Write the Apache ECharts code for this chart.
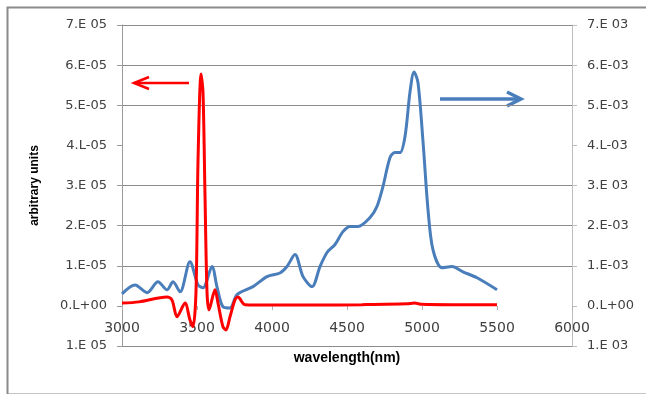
<!DOCTYPE html>
<html>
<head>
<meta charset="utf-8">
<script src="https://cdn.jsdelivr.net/npm/echarts@6/dist/echarts.min.js"></script>
<style>html,body{margin:0;padding:0;background:#fff;}#c{width:646px;height:394px;}</style>
</head>
<body>
<div id="c"></div>
<script>
// wavelength (nm) and values
const blueX = [3000,3087,3167,3240,3300,3340,3387,3453,3507,3540,3600,3633,3673,3720,3767,3873,3967,4053,4100,4153,4207,4267,4320,4367,4420,4473,4520,4573,4653,4700,4740,4787,4820,4853,4887,4920,4947,4973,5007,5040,5073,5133,5200,5273,5367,5500];
const blueY = [0.30e-3,0.52e-3,0.33e-3,0.60e-3,0.40e-3,0.60e-3,0.35e-3,1.10e-3,0.52e-3,0.45e-3,0.98e-3,0.48e-3,-0.02e-3,-0.05e-3,0.28e-3,0.48e-3,0.73e-3,0.82e-3,0.98e-3,1.28e-3,0.73e-3,0.48e-3,0.98e-3,1.33e-3,1.53e-3,1.85e-3,1.98e-3,1.98e-3,2.20e-3,2.48e-3,2.98e-3,3.70e-3,3.82e-3,3.82e-3,4.23e-3,5.33e-3,5.83e-3,5.57e-3,4.08e-3,2.40e-3,1.40e-3,0.95e-3,0.98e-3,0.85e-3,0.70e-3,0.40e-3];
const redX = [3000,3113,3300,3333,3367,3420,3453,3473,3493,3507,3527,3540,3553,3567,3580,3620,3640,3673,3693,3720,3753,3773,3820,4000,4300,4600,4900,4950,5000,5200,5500];
const redY = [0.07e-5,0.10e-5,0.22e-5,0.15e-5,-0.27e-5,0.07e-5,-0.35e-5,-0.52e-5,0.32e-5,3.65e-5,5.78e-5,5.32e-5,2.82e-5,0.32e-5,-0.10e-5,0.40e-5,0.07e-5,-0.52e-5,-0.60e-5,-0.27e-5,0.15e-5,0.22e-5,0.03e-5,0.02e-5,0.02e-5,0.03e-5,0.05e-5,0.07e-5,0.04e-5,0.03e-5,0.03e-5];
const xTicks = ['3000','3500','4000','4500','5000','5500','6000'];
const leftTicks = ['1.E 05','0.L+00','1.E-05','2.E-05','3.E 05','4.L-05','5.E-05','6.E-05','7.E 05'];
const rightTicks = ['1.E 03','0.L+00','1.E-03','2.E-03','3.E 03','4.L-03','5.E-03','6.E-03','7.E 03'];

const chart = echarts.init(document.getElementById('c'), null, {renderer:'canvas'});
const font = '"DejaVu Sans", sans-serif';
const boldFont = '"Liberation Sans", Arial, sans-serif';
const gridColors = ['#8c8c8c','rgba(0,0,0,0)','#8c8c8c','#8c8c8c','#8c8c8c','rgba(0,0,0,0)','#8c8c8c','#8c8c8c','#8c8c8c'];
chart.setOption({
  animation:false,
  backgroundColor:'#fff',
  grid:{left:122,right:74,top:25,bottom:48,containLabel:false,outerBoundsMode:'none'},
  xAxis:{type:'value',min:3000,max:6000,interval:500,position:'bottom',offset:-40,
    name:'wavelength(nm)',nameLocation:'middle',nameGap:45,
    nameTextStyle:{fontFamily:boldFont,fontWeight:'bold',fontSize:14,color:'#000'},
    axisLine:{show:true,onZero:false,lineStyle:{color:'rgba(0,0,0,0)'}},
    axisTick:{show:true,inside:false,length:4,lineStyle:{color:'#b0b0b0'}},
    splitLine:{show:false},
    axisLabel:{margin:15,fontFamily:font,fontSize:14,color:'#404040',
      formatter:(v)=>xTicks[Math.round((v-3000)/500)]}},
  yAxis:[
    {type:'value',min:-1e-5,max:7e-5,interval:1e-5,position:'left',
     name:'arbitrary units',nameLocation:'middle',nameGap:81,nameRotate:90,
     nameTextStyle:{fontFamily:boldFont,fontWeight:'bold',fontSize:12,color:'#000'},
     axisLine:{show:true,onZero:false,lineStyle:{color:'#9a9a9a'}},
     axisTick:{show:true,length:5,lineStyle:{color:'#9a9a9a'}},
     splitLine:{show:true,lineStyle:{color:gridColors,width:1}},
     axisLabel:{margin:15,fontFamily:font,fontSize:13,color:'#404040',
       formatter:(v)=>leftTicks[Math.round((v+1e-5)/1e-5)]}},
    {type:'value',min:-1e-3,max:7e-3,interval:1e-3,position:'right',
     axisLine:{show:true,onZero:false,lineStyle:{color:'#bdbdbd'}},
     axisTick:{show:true,length:5,lineStyle:{color:'#bdbdbd'}},
     splitLine:{show:false},
     axisLabel:{margin:15,fontFamily:font,fontSize:13,color:'#404040',
       formatter:(v)=>rightTicks[Math.round((v+1e-3)/1e-3)]}}
  ],
  series:[
    {type:'line',yAxisIndex:1,data:blueX.map((x,i)=>[x,blueY[i]]),smooth:0.3,showSymbol:false,
     lineStyle:{color:'#4a7ebb',width:3},z:2},
    {type:'line',yAxisIndex:0,data:redX.map((x,i)=>[x,redY[i]]),smooth:0.3,showSymbol:false,
     lineStyle:{color:'#ff0000',width:3},z:3}
  ],
  graphic:[
    {type:'rect',left:5,top:5,shape:{x:0,y:0,width:700,height:387},style:{fill:'none',stroke:'#8a8a8a',lineWidth:2},silent:true},
    {type:'line',shape:{x1:189,y1:83,x2:134,y2:83},style:{stroke:'#ff0000',lineWidth:2.5}},
    {type:'polyline',shape:{points:[[149,77],[134,83],[149,89]]},style:{stroke:'#ff0000',lineWidth:2.5,fill:'none'}},
    {type:'line',shape:{x1:440,y1:99,x2:521,y2:99},style:{stroke:'#4a7ebb',lineWidth:3.5}},
    {type:'polyline',shape:{points:[[507,92],[521,99],[507,106]]},style:{stroke:'#4a7ebb',lineWidth:3.5,fill:'none'}}
  ]
});
</script>
</body>
</html>
